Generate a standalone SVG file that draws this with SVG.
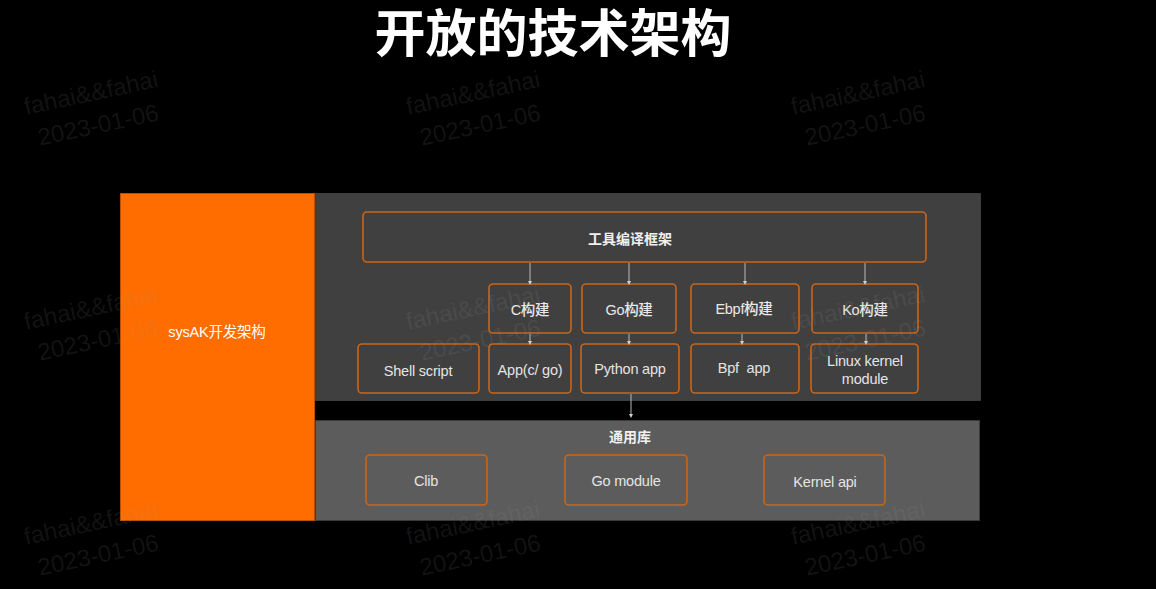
<svg xmlns="http://www.w3.org/2000/svg" width="1156" height="589" viewBox="0 0 1156 589">
<defs>
<style>
.box{fill:none;stroke:#c9651a;stroke-width:1.6}
.lbl{font-family:"Liberation Sans","Noto Sans CJK SC",sans-serif;font-size:14.5px;fill:#e4e4e4;text-anchor:middle;letter-spacing:-0.2px}
.cn{font-family:"Liberation Sans","Noto Sans CJK SC",sans-serif;font-size:14px;font-weight:bold;fill:#f0f0f0;text-anchor:middle}
.bld{font-family:"Liberation Sans","Noto Sans CJK SC",sans-serif;font-size:14.5px;font-weight:500;fill:#e8e8e8;text-anchor:middle;letter-spacing:-0.3px}
.conn{stroke:#b8b8b8;stroke-width:1;fill:none;marker-end:url(#dot)}
.wm{font-family:"Liberation Sans",Arial,sans-serif;font-size:24px;fill:#9a9a9a;fill-opacity:0.13}
</style>
<marker id="dot" viewBox="0 0 6 6" refX="3" refY="3" markerWidth="4" markerHeight="4" markerUnits="userSpaceOnUse" orient="auto">
<path d="M0,0 L6,3 L0,6 z" fill="#d0d0d0"/>
</marker>
<g id="wmark">
<text class="wm" x="0" y="0">fahai&amp;&amp;fahai</text>
<text class="wm" x="7" y="33">2023-01-06</text>
</g>
</defs>
<rect width="1156" height="589" fill="#000"/>

<text x="553" y="52" font-family="'Noto Sans CJK SC',sans-serif" font-size="51" font-weight="bold" fill="#fff" text-anchor="middle">开放的技术架构</text>

<g id="sysak">
<rect x="120.5" y="193.5" width="194" height="327" fill="#ff6d00" stroke="#b85000" stroke-width="1"/>
<text x="217" y="337" font-family="'Liberation Sans','Noto Sans CJK SC',sans-serif" font-size="14.5" fill="#fff" text-anchor="middle" letter-spacing="-0.2">sysAK开发架构</text>
</g>

<g id="panel-top">
<rect x="315.5" y="193.5" width="665" height="207" fill="#404040" stroke="#5a5a5a" stroke-width="1" stroke-dasharray="1 1"/>
</g>
<g id="panel-lib">
<rect x="315.5" y="420.5" width="664" height="100" fill="#5c5c5c" stroke="#3a3a3a" stroke-width="1"/>
<text class="cn" x="630" y="442">通用库</text>
</g>

<g id="n-framework"><rect class="box" x="363" y="212" width="563" height="50" rx="4"/><text class="cn" x="630" y="244">工具编译框架</text></g>

<g id="n-cbuild"><rect class="box" x="489" y="284" width="82" height="49" rx="4"/><text class="bld" x="530" y="315">C构建</text></g>
<g id="n-gobuild"><rect class="box" x="582" y="284" width="94" height="49" rx="4"/><text class="bld" x="629" y="315">Go构建</text></g>
<g id="n-ebpfbuild"><rect class="box" x="691" y="284" width="108" height="49" rx="4"/><text class="bld" x="744" y="314">Ebpf构建</text></g>
<g id="n-kobuild"><rect class="box" x="812" y="284" width="106" height="49" rx="4"/><text class="bld" x="865" y="315">Ko构建</text></g>

<g id="n-shell"><rect class="box" x="358" y="344" width="121" height="49" rx="4"/><text class="lbl" x="418" y="376">Shell script</text></g>
<g id="n-app"><rect class="box" x="489" y="344" width="82" height="49" rx="4"/><text class="lbl" x="530" y="375">App(c/ go)</text></g>
<g id="n-python"><rect class="box" x="581" y="344" width="98" height="49" rx="4"/><text class="lbl" x="630" y="374">Python app</text></g>
<g id="n-bpf"><rect class="box" x="691" y="344" width="108" height="49" rx="4"/><text class="lbl" x="744" y="373">Bpf&#160; app</text></g>
<g id="n-lkm"><rect class="box" x="811" y="344" width="107" height="49" rx="4"/><text class="lbl" x="865" y="366">Linux kernel</text><text class="lbl" x="865" y="384">module</text></g>

<g id="n-clib"><rect class="box" x="366" y="455" width="121" height="50" rx="4"/><text class="lbl" x="426" y="486">Clib</text></g>
<g id="n-gomod"><rect class="box" x="565" y="455" width="122" height="50" rx="4"/><text class="lbl" x="626" y="486">Go module</text></g>
<g id="n-kapi"><rect class="box" x="764" y="455" width="121" height="50" rx="4"/><text class="lbl" x="825" y="487">Kernel api</text></g>

<g id="connectors">
<path class="conn" d="M530,263 V283"/>
<path class="conn" d="M629,263 V283"/>
<path class="conn" d="M745,263 V283"/>
<path class="conn" d="M865,263 V283"/>
<path class="conn" d="M530,334 V343"/>
<path class="conn" d="M629,334 V343"/>
<path class="conn" d="M742,334 V343"/>
<path class="conn" d="M866,334 V343"/>
<path class="conn" d="M631,394 V416"/>
</g>

<g id="watermarks">
<use href="#wmark" transform="translate(26,115) rotate(-12)"/>
<use href="#wmark" transform="translate(408,115) rotate(-12)"/>
<use href="#wmark" transform="translate(793,115) rotate(-12)"/>
<use href="#wmark" transform="translate(26,330) rotate(-12)"/>
<use href="#wmark" transform="translate(408,330) rotate(-12)"/>
<use href="#wmark" transform="translate(793,330) rotate(-12)"/>
<use href="#wmark" transform="translate(26,545) rotate(-12)"/>
<use href="#wmark" transform="translate(408,545) rotate(-12)"/>
<use href="#wmark" transform="translate(793,545) rotate(-12)"/>
</g>
</svg>
